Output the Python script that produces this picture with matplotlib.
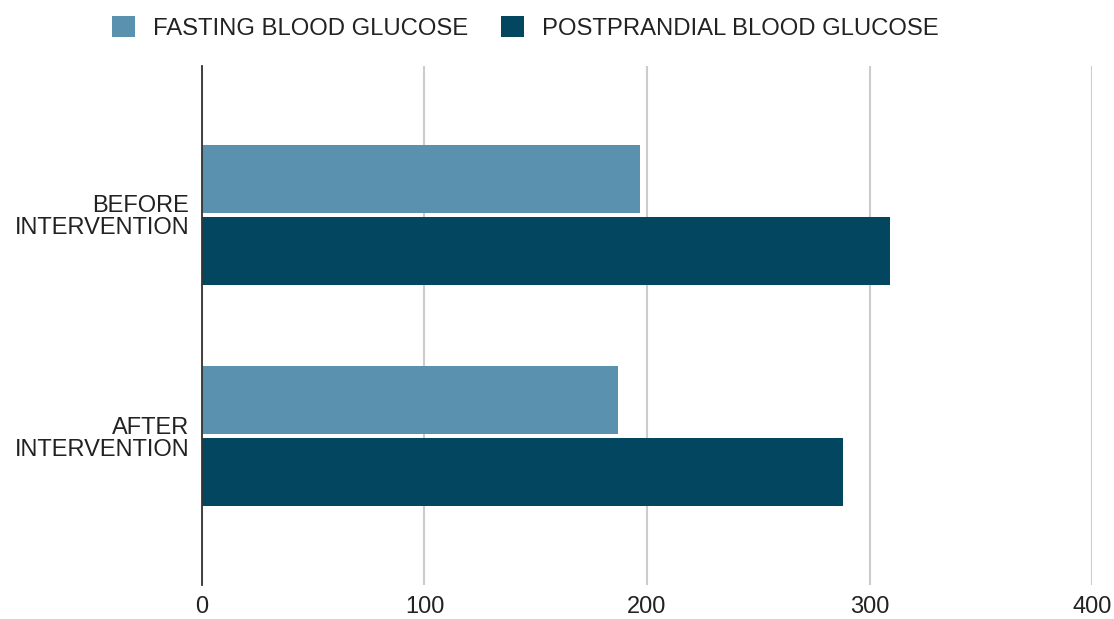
import matplotlib
matplotlib.use("Agg")
import matplotlib.pyplot as plt
import numpy as np

plt.rcParams["font.family"] = ["Liberation Sans", "DejaVu Sans"]

# ── data ───────────────────────────────────────────────────────────────────────
categories = ["BEFORE\nINTERVENTION", "AFTER\nINTERVENTION"]
series_names = ["FASTING BLOOD GLUCOSE", "POSTPRANDIAL BLOOD GLUCOSE"]
fasting = [197, 187]
postprandial = [309, 288]
x_ticks = [0, 100, 200, 300, 400]

colors = ["#5a91ae", "#02465f"]
text_color = "#222222"

fig = plt.figure(figsize=(11.14, 6.19), dpi=100)
ax = fig.add_axes([0.1813, 0.0549, 0.799, 0.8385])

y = np.arange(len(categories))
bar_h = 0.307
offset = 0.163

ax.barh(y - offset, fasting, height=bar_h, color=colors[0], label=series_names[0], zorder=3)
ax.barh(y + offset, postprandial, height=bar_h, color=colors[1], label=series_names[1], zorder=3)

ax.set_xlim(0, 400)
ax.set_ylim(1.674, -0.674)
ax.set_xticks(x_ticks)
ax.set_xticklabels([str(t) for t in x_ticks], fontsize=17, color=text_color)
ax.set_yticks(y)
ax.set_yticklabels(categories, fontsize=17, color=text_color, linespacing=1.0)
ax.tick_params(axis="both", length=0)
ax.tick_params(axis="x", pad=8)
ax.tick_params(axis="y", pad=9)

ax.grid(axis="x", color="#cccccc", linewidth=1.5, zorder=0)
ax.grid(axis="y", visible=False)
for side in ("top", "right", "bottom"):
    ax.spines[side].set_visible(False)
ax.spines["left"].set_color("#333333")
ax.spines["left"].set_linewidth(1.3)
ax.spines["left"].set_zorder(4)

fig.legend(
    loc="center left",
    bbox_to_anchor=(112 / 1114, 1 - 28 / 619),
    ncol=2,
    frameon=False,
    fontsize=17.2,
    labelcolor=text_color,
    handlelength=0.95,
    handleheight=0.95,
    handletextpad=0.75,
    columnspacing=1.4,
    borderpad=0,
    borderaxespad=0,
)

fig.savefig("out.png", dpi=100)
plt.close(fig)
